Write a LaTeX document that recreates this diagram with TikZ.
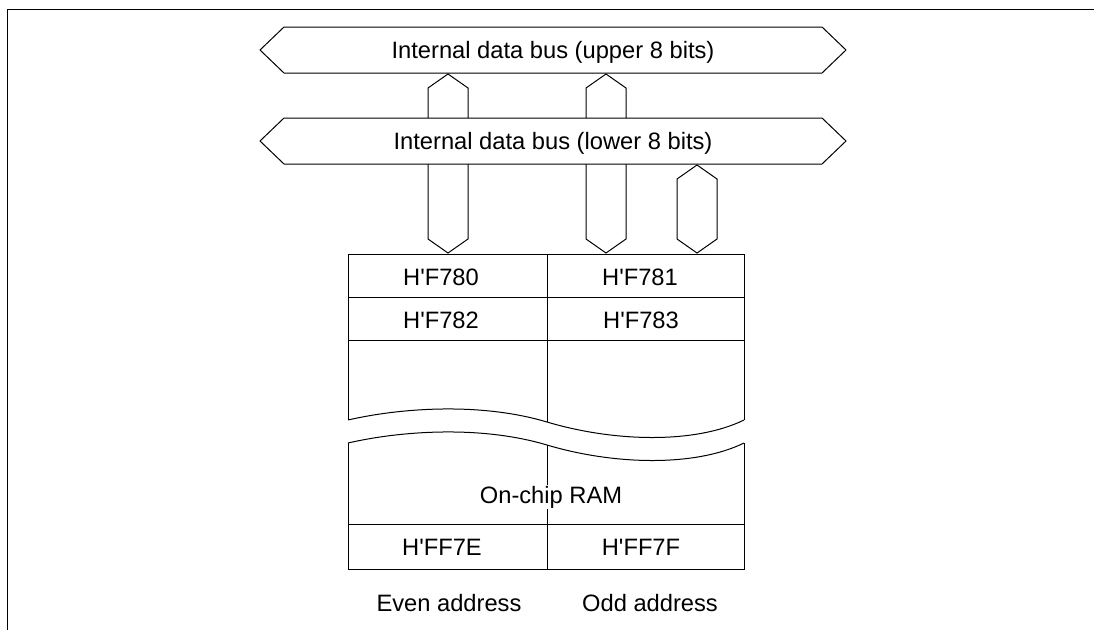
\documentclass[tikz,border=0pt]{standalone}
\usepackage{fontspec}
\setmainfont{Liberation Sans}
\begin{document}
\begin{tikzpicture}[x=1pt,y=-1pt,line width=1pt,line join=miter,
  lbl/.style={font=\fontsize{23.7}{28}\selectfont,inner sep=0pt,anchor=base},
  bus/.style={draw,fill=white}]
\useasboundingbox (0,0) rectangle (1094,630);
% frame
\draw[line width=1.3pt] (7.5,630) -- (7.5,9.5) -- (1094,9.5);
% vertical buses (drawn first, horizontal buses cover them)
\draw[bus] (448,74) -- (468,88) -- (468,239) -- (448,253) -- (428,239) -- (428,88) -- cycle;
\draw[bus] (606,74) -- (626,88) -- (626,239) -- (606,253) -- (586,239) -- (586,88) -- cycle;
\draw[bus] (697,165) -- (717,179) -- (717,239) -- (697,253) -- (677,239) -- (677,179) -- cycle;
% horizontal buses
\draw[bus] (260,50) -- (284,27) -- (822,27) -- (846,50) -- (822,73) -- (284,73) -- cycle;
\draw[bus] (260,141) -- (284,118) -- (822,118) -- (846,141) -- (822,164) -- (284,164) -- cycle;
\node[lbl] (ubus) at (553,58.5) {Internal data bus (upper 8 bits)};
\node[lbl] (lbus) at (553,149.5) {Internal data bus (lower 8 bits)};
% memory upper part
\draw (348,420) -- (348,254) -- (744,254) -- (744,420);
\draw (348,297) -- (744,297);
\draw (348,340) -- (744,340);
\draw (547,254) -- (547,422);
\draw (348,420) .. controls (400,408) and (480,402) .. (547,422)
      .. controls (614,442) and (695,444) .. (744,420);
% memory lower part
\draw (348,443) .. controls (400,431) and (480,425) .. (547,445)
      .. controls (614,465) and (695,467) .. (744,443);
\draw (348,443) -- (348,569) -- (744,569) -- (744,443);
\draw (348,524) -- (744,524);
\draw (547,445) -- (547,569);
% cell labels
\node[lbl] (a0) at (441,285.5) {H\textquotesingle F780};
\node[lbl] (a1) at (640,285.5) {H\textquotesingle F781};
\node[lbl] (a2) at (441,328) {H\textquotesingle F782};
\node[lbl] (a3) at (641,328) {H\textquotesingle F783};
\node[lbl,fill=white,inner sep=1pt] (ram) at (551,503.5) {On-chip RAM};
\node[lbl] (ae) at (442,555.5) {H\textquotesingle FF7E};
\node[lbl] (af) at (641,555.5) {H\textquotesingle FF7F};
\node[lbl] (even) at (449,611.5) {Even address};
\node[lbl] (odd) at (650,611.5) {Odd address};
\end{tikzpicture}
\end{document}
